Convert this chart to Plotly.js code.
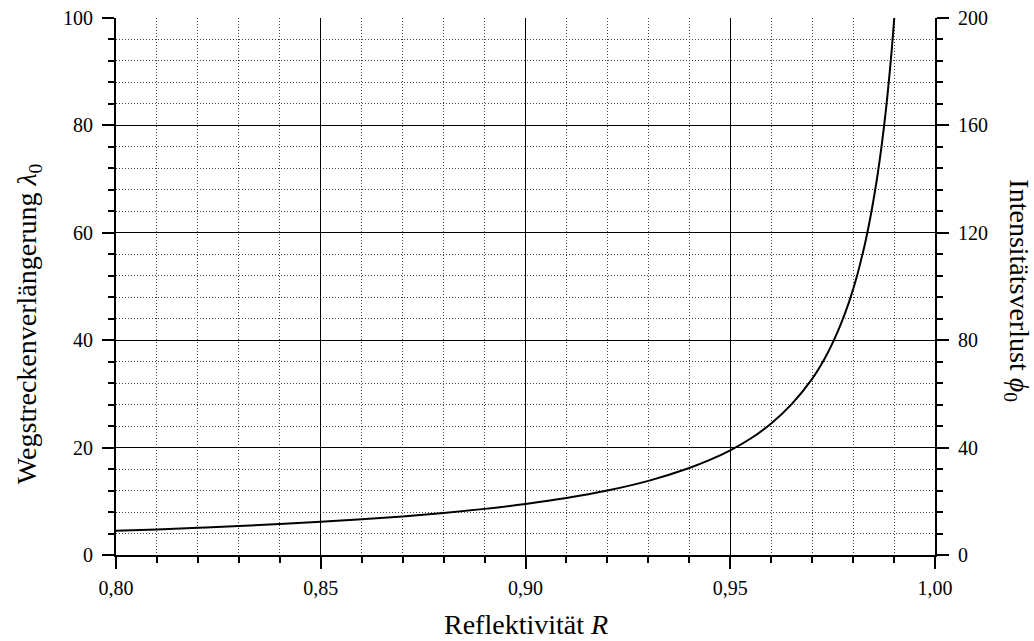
<!DOCTYPE html>
<html>
<head>
<meta charset="utf-8">
<script src="https://cdn.plot.ly/plotly-3.0.1.min.js"></script>
<style>html,body{margin:0;padding:0;background:#fff;}#chart{width:1034px;height:641px;}</style>
</head>
<body>
<div id="chart"></div>
<script>
// Reflektivität R
const reflectivity = [0.800, 0.810, 0.820, 0.830, 0.840, 0.850, 0.860, 0.870, 0.880, 0.890,
  0.900, 0.910, 0.920, 0.930, 0.940, 0.945, 0.950, 0.955, 0.960, 0.965, 0.970, 0.973,
  0.975, 0.977, 0.979, 0.980, 0.981, 0.982, 0.983, 0.984, 0.985, 0.986, 0.987, 0.988,
  0.989, 0.9895, 0.990, 0.9901];
// Wegstreckenverlängerung lambda_0
const lambda0 = [4.50, 4.76, 5.06, 5.38, 5.75, 6.17, 6.64, 7.19, 7.83, 8.59,
  9.50, 10.6, 12.0, 13.8, 16.2, 17.7, 19.5, 21.7, 24.5, 28.1, 32.8, 36.5,
  39.5, 43.0, 47.1, 49.5, 52.1, 55.1, 58.3, 62.0, 66.2, 70.9, 76.4, 82.8,
  90.4, 94.7, 99.5, 100.5];
const xTickVals = [0.80, 0.85, 0.90, 0.95, 1.00];
const xTickText = ['0,80', '0,85', '0,90', '0,95', '1,00'];
const xTitle = 'Reflektivität <i>R</i>';
const yTitle = 'Wegstreckenverlängerung <i>λ</i><sub>0</sub>';
const y2Title = 'Intensitätsverlust <i>ϕ</i><sub>0</sub>';

const font = '"Liberation Serif", "Times New Roman", serif';
const tickSize = 20;
const titleSize = 28;
const tickFont = {family: font, size: tickSize, color: '#000'};
const dotGrid = {showgrid: true, gridcolor: '#444', gridwidth: 1, griddash: '1px,2px'};

const traces = [
  {x: reflectivity, y: lambda0, mode: 'lines', line: {color: '#000', width: 2, shape: 'spline'},
   showlegend: false, hoverinfo: 'skip'},
  {x: [], y: [], yaxis: 'y2', mode: 'lines', showlegend: false, hoverinfo: 'skip'}
];

const layout = {
  width: 1034, height: 641,
  margin: {l: 116, r: 99, t: 18, b: 86},
  paper_bgcolor: '#fff', plot_bgcolor: '#fff',
  font: {family: font, size: tickSize, color: '#000'},
  xaxis: {
    range: [0.80, 1.00], tickmode: 'array', tickvals: xTickVals, ticktext: xTickText, tickfont: tickFont,
    showline: true, linecolor: '#000', linewidth: 2, mirror: false,
    ticks: 'outside', ticklen: 12, tickwidth: 2, tickcolor: '#000', ticklabelstandoff: 2,
    showgrid: true, gridcolor: '#000', gridwidth: 1, zeroline: false,
    minor: Object.assign({dtick: 0.01, tick0: 0.80, ticks: 'outside', ticklen: 6, tickwidth: 2, tickcolor: '#000'}, dotGrid)
  },
  yaxis: {
    range: [0, 100], dtick: 20, tick0: 0, tickfont: tickFont,
    showline: true, linecolor: '#000', linewidth: 2,
    ticks: 'outside', ticklen: 12, tickwidth: 2, tickcolor: '#000', ticklabelstandoff: 5,
    showgrid: true, gridcolor: '#000', gridwidth: 1, zeroline: false,
    minor: Object.assign({dtick: 4, tick0: 0, ticks: 'outside', ticklen: 6, tickwidth: 2, tickcolor: '#000'}, dotGrid)
  },
  yaxis2: {
    overlaying: 'y', side: 'right', range: [0, 200], dtick: 40, tick0: 0, tickfont: tickFont,
    showline: true, linecolor: '#000', linewidth: 2,
    ticks: 'outside', ticklen: 12, tickwidth: 2, tickcolor: '#000', ticklabelstandoff: 5,
    showgrid: false, zeroline: false,
    minor: {dtick: 8, tick0: 0, ticks: 'outside', ticklen: 6, tickwidth: 2, tickcolor: '#000', showgrid: false}
  },
  annotations: [
    {text: xTitle, xref: 'paper', yref: 'paper', x: 0.5, y: -0.130, xanchor: 'center', yanchor: 'middle',
     showarrow: false, font: {family: font, size: titleSize, color: '#000'}},
    {text: yTitle, textangle: -90, xref: 'paper', yref: 'paper', x: -0.1074, y: 0.43, xanchor: 'center', yanchor: 'middle',
     showarrow: false, font: {family: font, size: titleSize, color: '#000'}},
    {text: y2Title, textangle: 90, xref: 'paper', yref: 'paper', x: 1.1013, y: 0.491, xanchor: 'center', yanchor: 'middle',
     showarrow: false, font: {family: font, size: titleSize, color: '#000'}}
  ]
};

Plotly.newPlot('chart', traces, layout, {displayModeBar: false, staticPlot: true});
</script>
</body>
</html>
